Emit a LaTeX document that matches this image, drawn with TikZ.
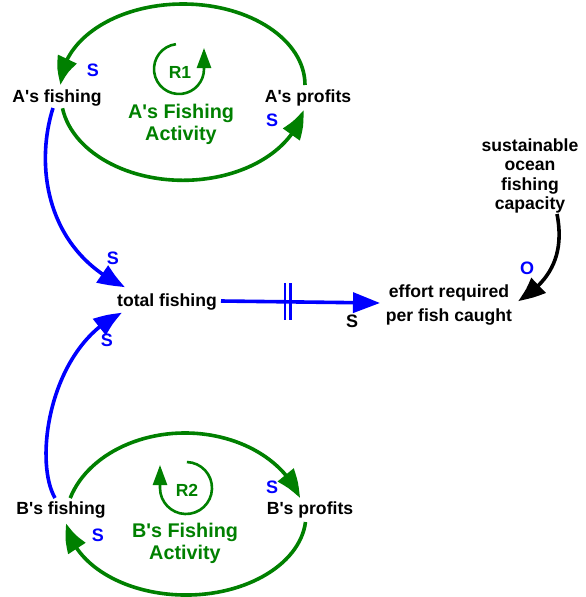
\documentclass[tikz,border=0pt]{standalone}
\usepackage{fontspec}
\setmainfont{Liberation Sans}
\usetikzlibrary{arrows.meta,bending,calc}
\definecolor{lgreen}{RGB}{0,128,0}
\definecolor{lblue}{RGB}{0,0,255}
\newcommand{\ap}{\textquotesingle}
\begin{document}
\begin{tikzpicture}[x=1pt,y=1pt,
 var/.style={font=\bfseries\fontsize{17.6}{20}\selectfont, inner sep=0pt, align=center, text=black},
 pol/.style={font=\bfseries\fontsize{18}{20}\selectfont, inner sep=0pt, text=lblue},
 loopname/.style={font=\bfseries\fontsize{19.8}{22}\selectfont, inner sep=0pt, align=center, text=lgreen},
 loopid/.style={font=\bfseries\fontsize{17.5}{20}\selectfont, inner sep=0pt, text=lgreen},
 glink/.style={draw=lgreen, line width=3.6pt, -{Triangle[length=27pt,width=20pt,bend]}},
 blink/.style={draw=lblue, line width=3.6pt, -{Triangle[length=27pt,width=20pt,bend]}},
 klink/.style={draw=black, line width=3.6pt, -{Triangle[length=27pt,width=20pt,bend]}},
 rlink/.style={draw=lgreen, line width=2.6pt, -{Triangle[length=20pt,width=14pt]}},
 delaybar/.style={draw=lblue, line width=2.6pt}
]
\useasboundingbox (0,0) rectangle (586,-597);

% variables
\node[var] (Afish) at (57,-98) {A\ap s fishing};
\node[var] (Aprof) at (308,-98) {A\ap s profits};
\node[var] (tot) at (167,-302) {total fishing};
\node[var, font=\bfseries\fontsize{17.6}{23.5}\selectfont] (eff) at (449,-305) {effort required\\per fish caught};
\node[var, font=\bfseries\fontsize{17.6}{19.5}\selectfont] (cap) at (530,-176) {sustainable\\ocean\\fishing\\capacity};
\node[var] (Bfish) at (61,-510) {B\ap s fishing};
\node[var] (Bprof) at (310,-510) {B\ap s profits};

% loop names
\node[loopname] (Aact) at (181,-124) {A\ap s Fishing\\Activity};
\node[loopname] (Bact) at (185,-543) {B\ap s Fishing\\Activity};
\node[loopid] (R1) at (180,-72) {R1};
\node[loopid] (R2) at (187,-490) {R2};

% loop symbols
\draw[rlink] ($(R1)+(-1,3)$) ++(97:25) arc[start angle=97,end angle=360,radius=25] -- ++(0,21);
\draw[rlink] ($(R2)+(-1,2)$) ++(88:26) arc[start angle=88,end angle=-180,radius=26] -- ++(0,23);

% loop A
\draw[glink] ([shift={(-3,13)}]Aprof.center) arc[start angle=0,end angle=180,x radius=122,y radius=81];
\draw[glink] ([shift={(5.5,-10.3)}]Afish.center) arc[start angle=-171.2,end angle=-10,x radius=122,y radius=85];

% loop B
\draw[glink] ([shift={(9.2,11.9)}]Bfish.center) arc[start angle=163,end angle=17,x radius=120,y radius=92];
\draw[glink] ([shift={(-4.5,-12)}]Bprof.center) arc[start angle=-5,end angle=-174,x radius=120,y radius=80];

% blue links
\draw[blink] ([shift={(-4,-10)}]Afish.center) .. controls (35,-165) and (45,-250) .. ([shift={(-42,15)}]tot.center);
\draw[blink] ([shift={(-6,12)}]Bfish.center) .. controls (33,-460) and (50,-345) .. ([shift={(-45,-11)}]tot.center);
\draw[blink] ([shift={(54,1)}]tot.center) -- ([shift={(-69,2)}]eff.center);
\draw[delaybar] (285,-283) -- (285,-320);
\draw[delaybar] (290.5,-283) -- (290.5,-320);

% black link
\draw[klink] ([shift={(27,-38)}]cap.center) .. controls (565,-255) and (550,-282) .. ([shift={(69,4)}]eff.center);

% polarities
\node[pol] (pA1) at (93,-70) {S};
\node[pol] (pA2) at (272,-120) {S};
\node[pol] (pT1) at (113,-258) {S};
\node[pol] (pT2) at (107,-340) {S};
\node[pol, text=black] (pE) at (352,-321) {S};
\node[pol] (pO) at (527,-268) {O};
\node[pol] (pB1) at (272,-487) {S};
\node[pol] (pB2) at (98,-535) {S};
\end{tikzpicture}
\end{document}
